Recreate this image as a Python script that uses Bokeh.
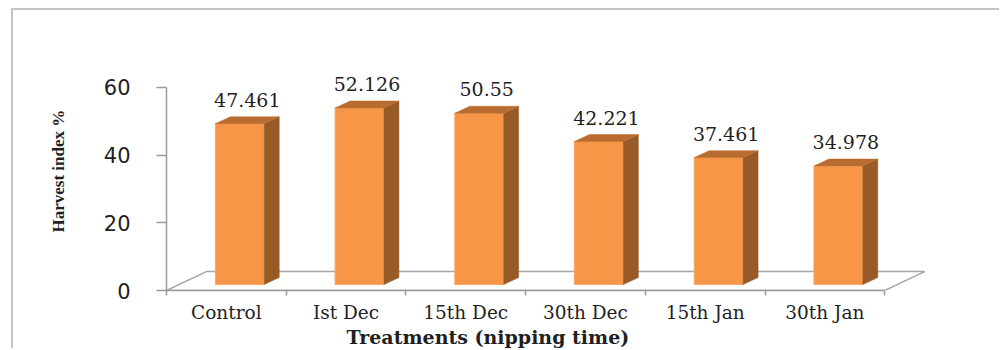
from bokeh.plotting import figure
from bokeh.models import Range1d, LinearAxis, FixedTicker, ColumnDataSource, Title
from bokeh.embed import file_html
from bokeh.resources import INLINE
from bokeh.core.properties import value

# ---- data ----
categories = ["Control", "Ist Dec", "15th Dec", "30th Dec", "15th Jan", "30th Jan"]
values = [47.461, 52.126, 50.55, 42.221, 37.461, 34.978]
y_ticks = [0, 20, 40, 60]
y_title = "Harvest index %"
x_title = "Treatments (nipping time)"

# ---- layout constants (pixels) ----
OX, OY = 13, 10            # where the figure's canvas starts on the page (after margin + border)
W, H = 1001 - OX, 350 - OY
B_LEFT, B_RIGHT, B_TOP, B_BOTTOM = 164 - OX, 10, 19 - OY, 59
PX_X = 120.0   # pixels per category
PX_Y = 3.4     # pixels per value unit
n = len(categories)

x_end = (W - B_LEFT - B_RIGHT) / PX_X
y_end = (H - B_TOP - B_BOTTOM) / PX_Y

p = figure(width=W, height=H, x_range=Range1d(0, x_end), y_range=Range1d(0, y_end),
           output_backend="svg", toolbar_location=None,
           x_axis_type=None, y_axis_type=None,
           min_border_left=B_LEFT, min_border_right=B_RIGHT,
           min_border_top=B_TOP, min_border_bottom=B_BOTTOM)
p.outline_line_color = None
p.background_fill_color = "white"
p.border_fill_color = "white"
p.margin = (8, 0, 0, 11)
p.styles = {"border-top": "2px solid #c4c4c4", "border-left": "2px solid #c4c4c4"}

AX_COL = "#9a9a9a"
TXT = "#1f1f1f"

# ---- y axis ----
yaxis = LinearAxis(ticker=FixedTicker(ticks=y_ticks, minor_ticks=[]), bounds=(min(y_ticks), max(y_ticks)))
yaxis.axis_line_color = AX_COL
yaxis.axis_line_width = 1.5
yaxis.major_tick_line_color = AX_COL
yaxis.major_tick_line_width = 1.5
yaxis.major_tick_out = 10
yaxis.major_tick_in = 0
yaxis.minor_tick_line_color = None
yaxis.major_label_standoff = 26
yaxis.major_label_text_font = "DejaVu Sans"
yaxis.major_label_text_font_size = "21px"
yaxis.major_label_text_color = TXT
p.add_layout(yaxis, "left")

yt = Title(text=y_title, align="left", offset=58, text_font="Liberation Serif",
           text_font_style="bold", text_font_size="17px", text_color=TXT, standoff=66)
p.add_layout(yt, "left")

# ---- x axis (ticks between categories, labels at centres) ----
centers = [i + 0.5 for i in range(n)]
xaxis = LinearAxis(ticker=FixedTicker(ticks=centers, minor_ticks=list(range(n + 1))), bounds=(0, n))
xaxis.major_label_overrides = {c: cat for c, cat in zip(centers, categories)}
xaxis.axis_line_color = AX_COL
xaxis.axis_line_width = 1.5
xaxis.major_tick_line_color = None
xaxis.major_tick_out = 0
xaxis.major_tick_in = 0
xaxis.minor_tick_line_color = AX_COL
xaxis.minor_tick_line_width = 1.5
xaxis.minor_tick_out = 5
xaxis.minor_tick_in = 0
xaxis.major_label_standoff = 6
xaxis.major_label_text_font = "DejaVu Serif"
xaxis.major_label_text_font_size = "18.5px"
xaxis.major_label_text_color = TXT
p.add_layout(xaxis, "below")

xt = Title(text=x_title, align="left", offset=180, text_font="DejaVu Serif",
           text_font_style="bold", text_font_size="19px", text_color=TXT, standoff=1,
           vertical_align="top")
p.add_layout(xt, "below")

# ---- 3D floor ----
FDX, FDY = 40 / PX_X, 19 / PX_Y
p.patch(x=[0, n, n + FDX, FDX], y=[0, 0, FDY, FDY], fill_color="white",
        line_color="#a6a6a6", line_width=1.5)

# ---- 3D bars ----
L_OFF, R_OFF = -11 / PX_X, 38 / PX_X
BDX, BDY = 15 / PX_X, 7 / PX_Y
Y0 = 6 / PX_Y

lefts = [c + L_OFF for c in centers]
rights = [c + R_OFF for c in centers]
tops = [Y0 + v for v in values]

side_xs = [[r, r + BDX, r + BDX, r] for r in rights]
side_ys = [[Y0, Y0 + BDY, t + BDY, t] for t in tops]
top_xs = [[l, r, r + BDX, l + BDX] for l, r in zip(lefts, rights)]
top_ys = [[t, t, t + BDY, t + BDY] for t in tops]

p.quad(left=lefts, right=rights, bottom=Y0, top=tops, fill_color="#f79646", line_color="#f9a866", line_width=1)
p.patches(xs=side_xs, ys=side_ys, fill_color="#985a27", line_color="#985a27", line_width=0.5)
p.patches(xs=top_xs, ys=top_ys, fill_color="#b96c2f", line_color="#b96c2f", line_width=0.5)

# ---- data labels ----
lab_src = ColumnDataSource(dict(
    x=[c + (L_OFF + R_OFF + BDX) / 2 for c in centers],
    y=[t + 24 / PX_Y for t in tops],
    text=[str(v) for v in values],
))
p.text(x="x", y="y", text="text", source=lab_src, text_align="center", text_baseline="middle",
       text_font=value("DejaVu Serif"), text_font_size="19px", text_color=TXT)

open("out.html", "w").write(file_html(p, INLINE))
